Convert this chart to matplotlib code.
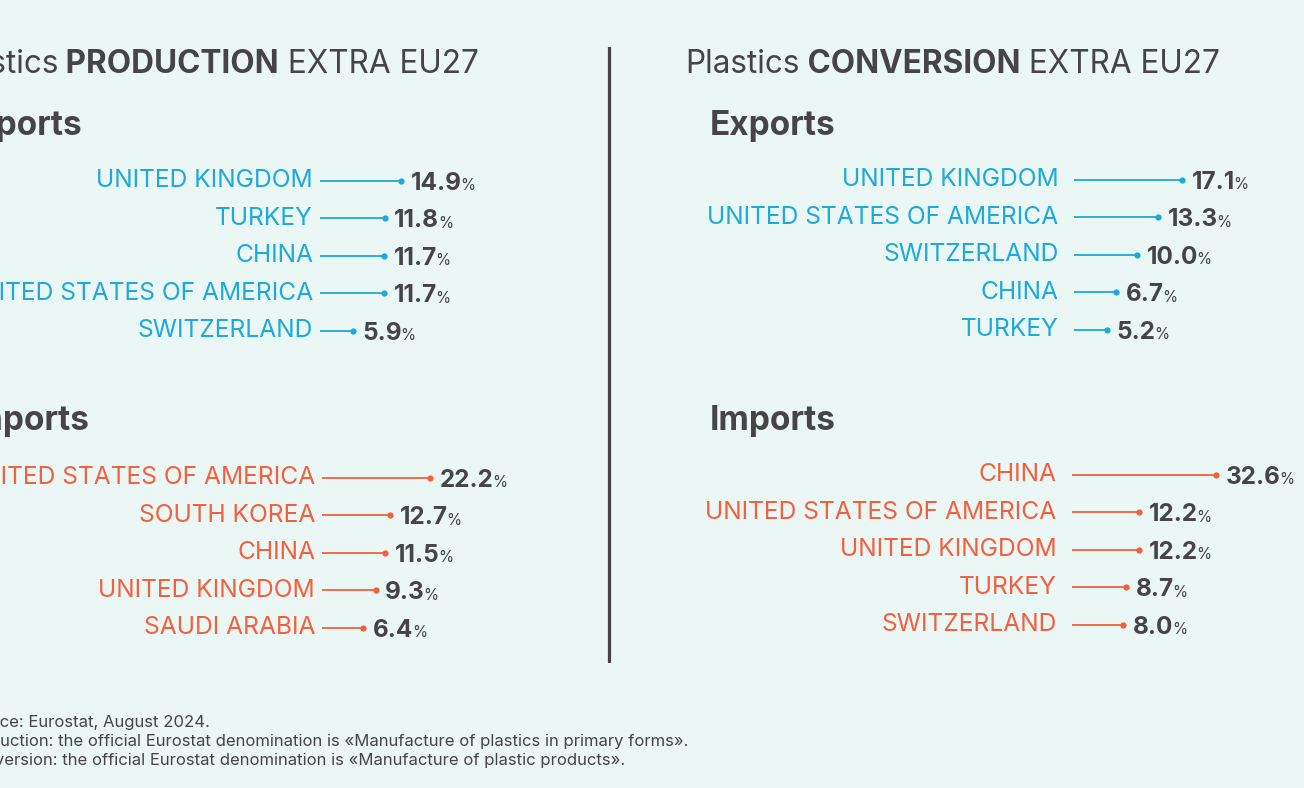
import matplotlib.pyplot as plt

plt.rcParams['font.family'] = ['Inter', 'DejaVu Sans']

# data
prod_exp_countries = ["UNITED KINGDOM", "TURKEY", "CHINA", "UNITED STATES OF AMERICA", "SWITZERLAND"]
prod_exp_values = [14.9, 11.8, 11.7, 11.7, 5.9]
prod_imp_countries = ["UNITED STATES OF AMERICA", "SOUTH KOREA", "CHINA", "UNITED KINGDOM", "SAUDI ARABIA"]
prod_imp_values = [22.2, 12.7, 11.5, 9.3, 6.4]
conv_exp_countries = ["UNITED KINGDOM", "UNITED STATES OF AMERICA", "SWITZERLAND", "CHINA", "TURKEY"]
conv_exp_values = [17.1, 13.3, 10.0, 6.7, 5.2]
conv_imp_countries = ["CHINA", "UNITED STATES OF AMERICA", "UNITED KINGDOM", "TURKEY", "SWITZERLAND"]
conv_imp_values = [32.6, 12.2, 12.2, 8.7, 8.0]

notes = [
    "Source: Eurostat, August 2024.",
    "Production: the official Eurostat denomination is «Manufacture of plastics in primary forms».",
    "Conversion: the official Eurostat denomination is «Manufacture of plastic products».",
]

BG = "#EBF7F5"
DARK = "#454545"
BLUE = "#1DA9D9"
ORANGE = "#F3603F"

W, H = 1304, 788
fig = plt.figure(figsize=(W / 100, H / 100), dpi=100, facecolor=BG)


def px_axes(left, top, width, height):
    ax = fig.add_axes([left / W, 1 - (top + height) / H, width / W, height / H])
    ax.set_facecolor("none")
    ax.axis("off")
    return ax


def section(countries, values, color, left, top, scale, stem, gap):
    # scale: pixels per percent point, stem: line length offset in percent units
    n = len(values)
    ax = px_axes(left, top, 260, 37.5 * n)
    ax.set_xlim(-stem, -stem + 260 / scale)
    ax.set_ylim(n - 0.5, -0.5)
    for i, (c, v) in enumerate(zip(countries, values)):
        ax.plot([-stem, v], [i, i], color=color, lw=1.3, solid_capstyle="butt")
        ax.plot(v, i, "o", color=color, ms=4.5, mec="none")
        ax.annotate(c, xy=(-stem, i), xytext=(-gap, -4.8), textcoords="offset points",
                    ha="right", va="baseline", color=color, fontsize=17.7)
        num = ax.annotate(f"{v:.1f}", xy=(v, i), xytext=(7, -6.5), textcoords="offset points",
                          ha="left", va="baseline", color=DARK, fontsize=17.5, fontweight="bold")
        ax.annotate("%", xy=(1, 0), xycoords=num, xytext=(-1, 1), textcoords="offset points",
                    ha="left", va="bottom", color=DARK, fontsize=11)
    return ax


def title_chain(x, y, word):
    t1 = fig.text(x / W, 1 - y / H, "Plastics", fontsize=22.7, color=DARK, va="baseline")
    t2 = fig.add_artist(plt.Annotation(" " + word, xy=(1, 0), xycoords=t1, va="bottom",
                                       fontsize=22.7, color=DARK, fontweight="bold"))
    fig.add_artist(plt.Annotation(" EXTRA EU27", xy=(1, 0), xycoords=t2, va="bottom",
                                  fontsize=22.7, color=DARK))


title_chain(-56, 73, "PRODUCTION")
title_chain(685, 73, "CONVERSION")

fig.text(-43 / W, 1 - 135 / H, "Exports", fontsize=24, color=DARK, fontweight="bold", va="baseline")
fig.text(-36 / W, 1 - 430 / H, "Imports", fontsize=24, color=DARK, fontweight="bold", va="baseline")
fig.text(710 / W, 1 - 135 / H, "Exports", fontsize=24, color=DARK, fontweight="bold", va="baseline")
fig.text(710 / W, 1 - 430 / H, "Imports", fontsize=24, color=DARK, fontweight="bold", va="baseline")

section(prod_exp_countries, prod_exp_values, BLUE, 320, 162, 5.4, 0.17, 5)
section(prod_imp_countries, prod_imp_values, ORANGE, 322, 459, 4.25, 3.3, 5)
section(conv_exp_countries, conv_exp_values, BLUE, 1074, 161, 6.3, 0.0, 11)
section(conv_imp_countries, conv_imp_values, ORANGE, 1072, 456, 3.75, 5.7, 11)

# divider
div = px_axes(600, 47, 20, 616)
div.set_xlim(0, 1)
div.set_ylim(0, 1)
div.axvline(0.45, color=DARK, lw=2.3)

for k, line in enumerate(notes):
    fig.text(-37 / W, 1 - (727 + 19 * k) / H, line, fontsize=12, color=DARK, va="baseline")

fig.savefig("out.png", dpi=100, facecolor=BG)
